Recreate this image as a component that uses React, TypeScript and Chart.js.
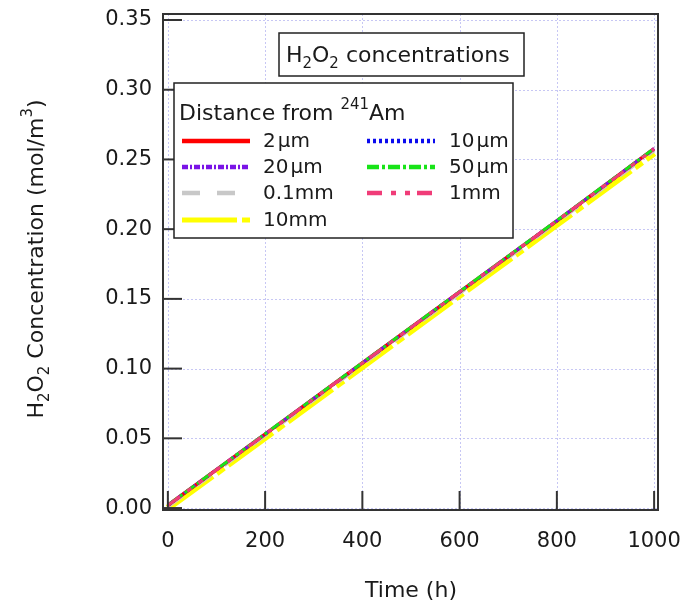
import React, { useEffect, useRef } from 'react';
import { Chart, registerables } from 'chart.js';

Chart.register(...registerables);

// ---------------- data ----------------
const timeHours = [0, 200, 400, 600, 800, 1000];
const conc2um = [0.0020, 0.0530, 0.1040, 0.1550, 0.2060, 0.2578];
const conc10um = [0.0020, 0.0529, 0.1039, 0.1549, 0.2059, 0.2575];
const conc20um = [0.0021, 0.0531, 0.1041, 0.1551, 0.2061, 0.2578];
const conc50um = [0.0021, 0.0532, 0.1042, 0.1552, 0.2062, 0.2579];
const conc01mm = [0.0012, 0.0522, 0.1032, 0.1542, 0.2052, 0.2565];
const conc1mm = [0.0019, 0.0529, 0.1040, 0.1550, 0.2060, 0.2575];
const conc10mm = [0.0000, 0.0506, 0.1016, 0.1526, 0.2035, 0.2546];

const seriesLabels = ['2\u200Aμm', '10\u200Aμm', '20\u200Aμm', '50\u200Aμm', '0.1mm', '1mm', '10mm'];
const seriesValues = [conc2um, conc10um, conc20um, conc50um, conc01mm, conc1mm, conc10mm];

const xTickValues = [0, 200, 400, 600, 800, 1000];
const yTickValues = [0, 0.05, 0.1, 0.15, 0.2, 0.25, 0.3, 0.35];

// ---------------- styles ----------------
const seriesStyles = [
  { color: '#ff0000', width: 3.5, dash: [] as number[], order: 4 },
  { color: '#0a0aee', width: 3, dash: [3, 3], order: 5 },
  { color: '#7a14e6', width: 3, dash: [6, 2, 2, 2], order: 3 },
  { color: '#18e418', width: 3, dash: [12, 3, 3, 3], order: 2 },
  { color: '#c8c8c8', width: 4, dash: [18, 17], order: 6 },
  { color: '#f03c78', width: 3, dash: [15, 9, 5, 9, 5, 7], order: 1 },
  { color: '#ffff00', width: 7, dash: [55, 5, 9, 5], order: 7 },
];

const FAMILY = '"DejaVu Sans", "Liberation Sans", Arial, sans-serif';
const TEXT = '#1a1a1a';
const AXIS = '#333333';

type Seg = { t: string; k?: 'sub' | 'sup' };

function drawRich(ctx: CanvasRenderingContext2D, segs: Seg[], x: number, y: number, size: number, align: 'left' | 'center') {
  const fontFor = (k?: string) => `${k ? size * 0.68 : size}px ${FAMILY}`;
  let total = 0;
  for (const s of segs) {
    ctx.font = fontFor(s.k);
    total += ctx.measureText(s.t).width;
  }
  let cx = align === 'center' ? x - total / 2 : x;
  ctx.textAlign = 'left';
  ctx.textBaseline = 'alphabetic';
  for (const s of segs) {
    ctx.font = fontFor(s.k);
    const dy = s.k === 'sub' ? size * 0.28 : s.k === 'sup' ? -size * 0.5 : 0;
    ctx.fillText(s.t, cx, y + dy);
    cx += ctx.measureText(s.t).width;
  }
}

const decorPlugin = {
  id: 'decor',
  beforeDatasetsDraw(chart: any) {
    const { ctx, chartArea: ca, scales } = chart;
    const xs = scales.x, ys = scales.y;
    ctx.save();
    ctx.strokeStyle = 'rgba(175,175,240,0.7)';
    ctx.lineWidth = 1;
    ctx.setLineDash([2, 2]);
    for (const v of xTickValues) {
      const px = Math.round(xs.getPixelForValue(v)) + 0.5;
      ctx.beginPath();
      ctx.moveTo(px, ca.top);
      ctx.lineTo(px, ca.bottom);
      ctx.stroke();
    }
    for (const v of yTickValues) {
      const py = Math.round(ys.getPixelForValue(v)) + 0.5;
      ctx.beginPath();
      ctx.moveTo(ca.left, py);
      ctx.lineTo(ca.right, py);
      ctx.stroke();
    }
    ctx.restore();
  },
  afterDraw(chart: any) {
    const { ctx, chartArea: ca, scales } = chart;
    const xs = scales.x, ys = scales.y;
    ctx.save();
    // frame
    ctx.setLineDash([]);
    ctx.strokeStyle = AXIS;
    ctx.lineWidth = 2;
    ctx.strokeRect(ca.left, ca.top, ca.right - ca.left, ca.bottom - ca.top);
    // inward ticks
    const tickLen = 19;
    for (const v of xTickValues) {
      const px = xs.getPixelForValue(v);
      ctx.beginPath();
      ctx.moveTo(px, ca.bottom);
      ctx.lineTo(px, ca.bottom - tickLen);
      ctx.stroke();
    }
    for (const v of yTickValues) {
      const py = ys.getPixelForValue(v);
      ctx.beginPath();
      ctx.moveTo(ca.left, py);
      ctx.lineTo(ca.left + tickLen, py);
      ctx.stroke();
    }

    // title box
    ctx.fillStyle = '#ffffff';
    ctx.fillRect(279, 33, 245, 43);
    ctx.strokeStyle = '#222';
    ctx.lineWidth = 1.5;
    ctx.strokeRect(279, 33, 245, 43);
    ctx.fillStyle = TEXT;
    drawRich(ctx, [{ t: 'H' }, { t: '2', k: 'sub' }, { t: 'O' }, { t: '2', k: 'sub' }, { t: ' concentrations' }], 286, 62, 22, 'left');

    // legend box
    ctx.fillStyle = '#ffffff';
    ctx.fillRect(174, 83, 339, 155);
    ctx.strokeStyle = '#222';
    ctx.lineWidth = 1.5;
    ctx.strokeRect(174, 83, 339, 155);
    ctx.fillStyle = TEXT;
    drawRich(ctx, [{ t: 'Distance from ' }, { t: '241', k: 'sup' }, { t: 'Am' }], 179, 120, 22, 'left');

    const rowY = [141, 167, 193, 220];
    const sampleX = [182, 367];
    const labelX = [263, 449];
    const sampleLen = 68;
    seriesLabels.forEach((lab, i) => {
      const r = Math.floor(i / 2), c = i % 2;
      const st = seriesStyles[i];
      ctx.strokeStyle = st.color;
      ctx.lineWidth = st.width >= 6 ? 5 : 4.5;
      ctx.setLineDash(st.dash);
      ctx.lineCap = 'butt';
      ctx.beginPath();
      ctx.moveTo(sampleX[c], rowY[r]);
      ctx.lineTo(sampleX[c] + sampleLen, rowY[r]);
      ctx.stroke();
      ctx.setLineDash([]);
      ctx.fillStyle = TEXT;
      ctx.font = `20px ${FAMILY}`;
      ctx.textAlign = 'left';
      ctx.textBaseline = 'middle';
      ctx.fillText(lab, labelX[c], rowY[r] + 1);
    });

    // y axis title (rotated)
    ctx.save();
    ctx.translate(43, 259);
    ctx.rotate(-Math.PI / 2);
    ctx.fillStyle = TEXT;
    drawRich(ctx, [
      { t: 'H' }, { t: '2', k: 'sub' }, { t: 'O' }, { t: '2', k: 'sub' },
      { t: ' Concentration (mol/m' }, { t: '3', k: 'sup' }, { t: ')' },
    ], 0, 0, 22, 'center');
    ctx.restore();

    // x axis title
    ctx.fillStyle = TEXT;
    ctx.font = `22px ${FAMILY}`;
    ctx.textAlign = 'center';
    ctx.textBaseline = 'alphabetic';
    ctx.fillText('Time (h)', 411, 597);

    ctx.restore();
  },
};

export default function App() {
  const canvasRef = useRef<HTMLCanvasElement | null>(null);

  useEffect(() => {
    const canvas = canvasRef.current;
    if (!canvas) return;
    const datasets = seriesLabels.map((lab, i) => ({
      label: lab,
      data: timeHours.map((t, j) => ({ x: t, y: seriesValues[i][j] })),
      borderColor: seriesStyles[i].color,
      backgroundColor: seriesStyles[i].color,
      borderWidth: seriesStyles[i].width,
      borderDash: seriesStyles[i].dash,
      borderCapStyle: 'butt' as const,
      pointRadius: 0,
      fill: false,
      tension: 0,
      order: seriesStyles[i].order,
    }));

    const chart = new Chart(canvas, {
      type: 'line',
      data: { datasets },
      plugins: [decorPlugin],
      options: {
        responsive: false,
        animation: false,
        devicePixelRatio: 1,
        layout: { padding: { top: 14, right: 25, left: 0, bottom: 0 } },
        plugins: { legend: { display: false }, tooltip: { enabled: false }, title: { display: false } },
        scales: {
          x: {
            type: 'linear',
            min: -10,
            max: 1008,
            grid: { display: false, drawTicks: false },
            border: { display: false },
            afterBuildTicks: (s: any) => { s.ticks = xTickValues.map((v) => ({ value: v })); },
            afterFit: (s: any) => { s.height = 90; s.paddingLeft = 0; s.paddingRight = 0; },
            ticks: {
              padding: 19,
              color: TEXT,
              font: { family: FAMILY, size: 21 },
              maxRotation: 0,
              autoSkip: false,
              callback: (v: any) => String(v),
            },
          },
          y: {
            type: 'linear',
            min: -0.0014,
            max: 0.3543,
            grid: { display: false, drawTicks: false },
            border: { display: false },
            afterBuildTicks: (s: any) => { s.ticks = yTickValues.map((v) => ({ value: v })); },
            afterFit: (s: any) => { s.width = 163; s.paddingTop = 0; s.paddingBottom = 0; },
            ticks: {
              padding: 11,
              color: TEXT,
              font: { family: FAMILY, size: 21 },
              autoSkip: false,
              callback: (v: any) => Number(v).toFixed(2),
            },
          },
        },
      },
    });
    return () => chart.destroy();
  }, []);

  return (
    <div style={{ position: 'fixed', left: 0, top: 0, width: 683, height: 600, background: '#fff' }}>
      <canvas ref={canvasRef} width={683} height={600} style={{ width: 683, height: 600, display: 'block' }} />
    </div>
  );
}
